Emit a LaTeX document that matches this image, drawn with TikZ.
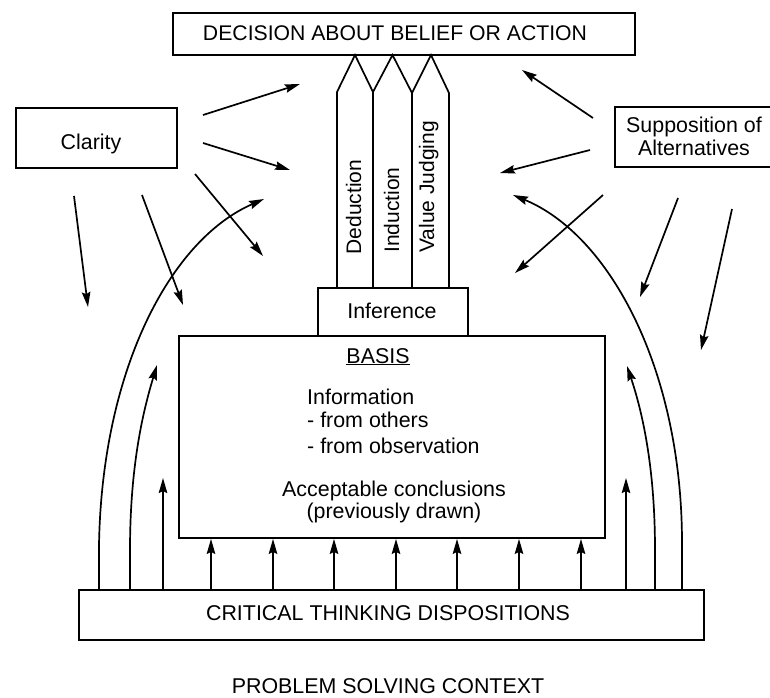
\documentclass[tikz,border=0pt]{standalone}
\usepackage{fontspec}
\setmainfont{Liberation Sans}
\usetikzlibrary{arrows.meta}
\begin{document}
\begin{tikzpicture}[x=1pt,y=-1pt]
\tikzset{
  box/.style={draw, line width=1.8pt, inner sep=0pt},
  lbl/.style={font=\fontsize{21.4}{25}\selectfont, inner sep=0pt},
  biglbl/.style={font=\fontsize{21.2}{25}\selectfont, inner sep=0pt},
  collbl/.style={font=\fontsize{21}{25}\selectfont, inner sep=0pt},
  ln/.style={line width=1.7pt, line join=miter},
  arr/.style={line width=1.7pt, -{Stealth[length=15pt,width=8.5pt,inset=2pt]}}
}
\useasboundingbox (0,0) rectangle (770,697);

% boxes
\node[box, minimum width=462pt, minimum height=42pt] (decision) at (404,34) {};
\node[box, minimum width=161pt, minimum height=60pt] (clarity) at (96.5,138) {};
\node[box, minimum width=150pt, minimum height=48pt] (inference) at (393,312) {};
\node[box, minimum width=426pt, minimum height=202pt] (basis) at (392,437) {};
\node[box, minimum width=625pt, minimum height=50pt] (ctd) at (391.5,615) {};
% supposition box runs off the right edge
\draw[line width=1.8pt] (775,107) -- (615,107) -- (615,167) -- (775,167);

% texts
\node[biglbl, anchor=base] (decisiontxt) at (395,40) {DECISION ABOUT BELIEF OR ACTION};
\node[lbl, anchor=base] (claritytxt) at (91,149) {Clarity};
\node[lbl, anchor=base] (supp1) at (694,132) {Supposition of};
\node[lbl, anchor=base] (supp2) at (694,155) {Alternatives};
\node[lbl, anchor=base] (inftxt) at (392,318) {Inference};
\node[lbl, anchor=base] (basistitle) at (378,363) {\underline{BASIS}};
\node[lbl, anchor=base west] (info1) at (307,404) {Information};
\node[lbl, anchor=base west] (info2) at (307,427) {- from others};
\node[lbl, anchor=base west] (info3) at (307,453) {- from observation};
\node[lbl, anchor=base] (acc1) at (394,496) {Acceptable conclusions};
\node[lbl, anchor=base] (acc2) at (394,518) {(previously drawn)};
\node[lbl, anchor=base] (ctdtxt) at (388,620) {CRITICAL THINKING DISPOSITIONS};
\node[lbl, anchor=base] (context) at (388,693) {PROBLEM SOLVING CONTEXT};

% the three inference columns
\draw[ln] (337,288) -- (337,92) -- (355,55) -- (373,92) -- (373,288);
\draw[ln] (373,92) -- (392.5,55) -- (412,93) -- (412,288);
\draw[ln] (412,93) -- (431,55) -- (449,93) -- (449,288);
\node[collbl, rotate=90, anchor=base] (deduction) at (361,207) {Deduction};
\node[collbl, rotate=90, anchor=base] (induction) at (399,210) {Induction};
\node[collbl, rotate=90, anchor=base] (valuej) at (434,187) {Value Judging};

% arrows from Clarity
\coordinate (ca1) at (203,115); \coordinate (ca1e) at (300,84);
\coordinate (ca2) at (203,143); \coordinate (ca2e) at (290,170);
\coordinate (ca3) at (195,174); \coordinate (ca3e) at (263,256);
\coordinate (ca4) at (74,196);  \coordinate (ca4e) at (88,307);
\coordinate (ca5) at (142,195); \coordinate (ca5e) at (183,305);
\foreach \s in {1,...,5} \draw[arr] (ca\s) -- (ca\s e);

% arrows from Supposition of Alternatives
\coordinate (sa1) at (593,118); \coordinate (sa1e) at (522,70);
\coordinate (sa2) at (590,150); \coordinate (sa2e) at (500,173);
\coordinate (sa3) at (603,195); \coordinate (sa3e) at (515,273);
\coordinate (sa4) at (678,198); \coordinate (sa4e) at (640,297);
\coordinate (sa5) at (732,209); \coordinate (sa5e) at (701,350);
\foreach \s in {1,...,5} \draw[arr] (sa\s) -- (sa\s e);

% dispositions feeding the basis
\foreach \x in {211,273,334,396,457,519,581}
  \draw[arr] (ctd.north -| \x,0) -- (basis.south -| \x,0);

% side arrows and arcs rising from the dispositions
\coordinate (lo) at (264,199);
\coordinate (li) at (157,365);
\coordinate (ls) at (163,478);
\coordinate (ro) at (513,195);
\coordinate (ri) at (627,366);
\coordinate (rs) at (626,478);
\draw[arr] (ctd.north -| 99,0) -- (99,545) .. controls (102,370) and (170,240) .. (lo);
\draw[arr] (ctd.north -| 130,0) -- (130,550) .. controls (130,460) and (145,405) .. (li);
\draw[arr] (ctd.north -| 163,0) -- (ls);
\draw[arr] (ctd.north -| 682,0) -- (682,543) .. controls (682,370) and (610,235) .. (ro);
\draw[arr] (ctd.north -| 655,0) -- (655,550) .. controls (655,460) and (640,405) .. (ri);
\draw[arr] (ctd.north -| 626,0) -- (rs);
\end{tikzpicture}
\end{document}
